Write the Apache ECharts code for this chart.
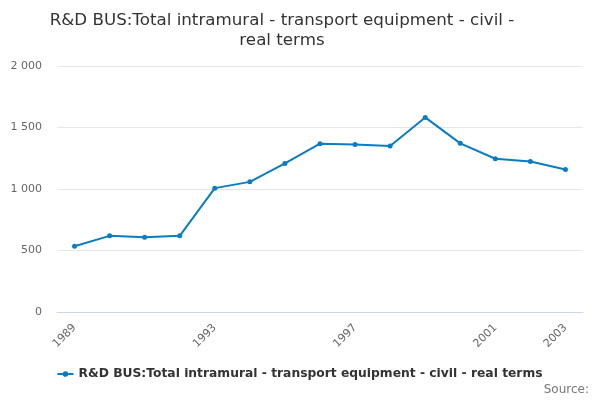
<!DOCTYPE html>
<html>
<head>
<meta charset="utf-8">
<script src="https://cdn.jsdelivr.net/npm/echarts@6/dist/echarts.min.js"></script>
<style>html,body{margin:0;padding:0;background:#fff}#c{width:600px;height:400px}</style>
</head>
<body>
<div id="c"></div>
<script>
const titleText = "R&D BUS:Total intramural - transport equipment - civil -\nreal terms";
const seriesName = "R&D BUS:Total intramural - transport equipment - civil - real terms";
const years = ["1989","1990","1991","1992","1993","1994","1995","1996","1997","1998","1999","2000","2001","2002","2003"];
const values = [535, 619, 608, 619, 1007, 1058, 1208, 1368, 1362, 1349, 1582, 1371, 1246, 1224, 1159];
const yTicks = [0, 500, 1000, 1500, 2000];

const chart = echarts.init(document.getElementById('c'));
const font = "DejaVu Sans";
chart.setOption({
  animation: false,
  textStyle: { fontFamily: font },
  graphic: [{
    type: 'text', x: 282, y: 11,
    style: { text: titleText, fill: '#333', font: '16.7px "DejaVu Sans"', textAlign: 'center', lineHeight: 19.5 }
  }, {
    type: 'text', right: 11, top: 384,
    style: { text: 'Source:', fill: '#777', font: '12px "DejaVu Sans"' }
  }],
  legend: {
    top: 363, left: 'center',
    itemWidth: 16, itemHeight: 8, itemGap: 5,
    textStyle: { fontFamily: font, fontSize: 12.3, fontWeight: 'bold', color: '#333' },
    data: [{ name: seriesName, icon: 'path://M0,3 L5.2,3 L5.2,5 L0,5 Z M10.8,3 L16,3 L16,5 L10.8,5 Z M8,1.2 A2.8,2.8 0 1,1 7.99,1.2 Z' }]
  },
  grid: { left: 57, right: 17, top: 66, bottom: 88 },
  xAxis: {
    type: 'category',
    data: years,
    boundaryGap: true,
    axisLine: { lineStyle: { color: '#ccd6eb' } },
    axisTick: { alignWithLabel: true, length: 10, lineStyle: { color: '#ccd6eb' }, interval: 0 },
    axisLabel: {
      rotate: 45, color: '#666', fontSize: 11, fontFamily: font, margin: 14,
      interval: function (i) { return i % 4 === 0 || i === years.length - 1; }
    }
  },
  yAxis: {
    type: 'value',
    min: yTicks[0], max: yTicks[yTicks.length - 1], interval: 500,
    axisLine: { show: false },
    axisTick: { show: false },
    splitLine: { lineStyle: { color: '#e6e6e6' } },
    axisLabel: {
      color: '#666', fontSize: 11, fontFamily: font, margin: 15,
      formatter: function (v) { return String(v).replace(/\B(?=(\d{3})+(?!\d))/g, ' '); }
    }
  },
  series: [{
    name: seriesName,
    type: 'line',
    data: values,
    symbol: 'circle',
    symbolSize: 5,
    lineStyle: { color: '#0a7dc2', width: 2 },
    itemStyle: { color: '#0a7dc2' }
  }]
});
</script>
</body>
</html>
